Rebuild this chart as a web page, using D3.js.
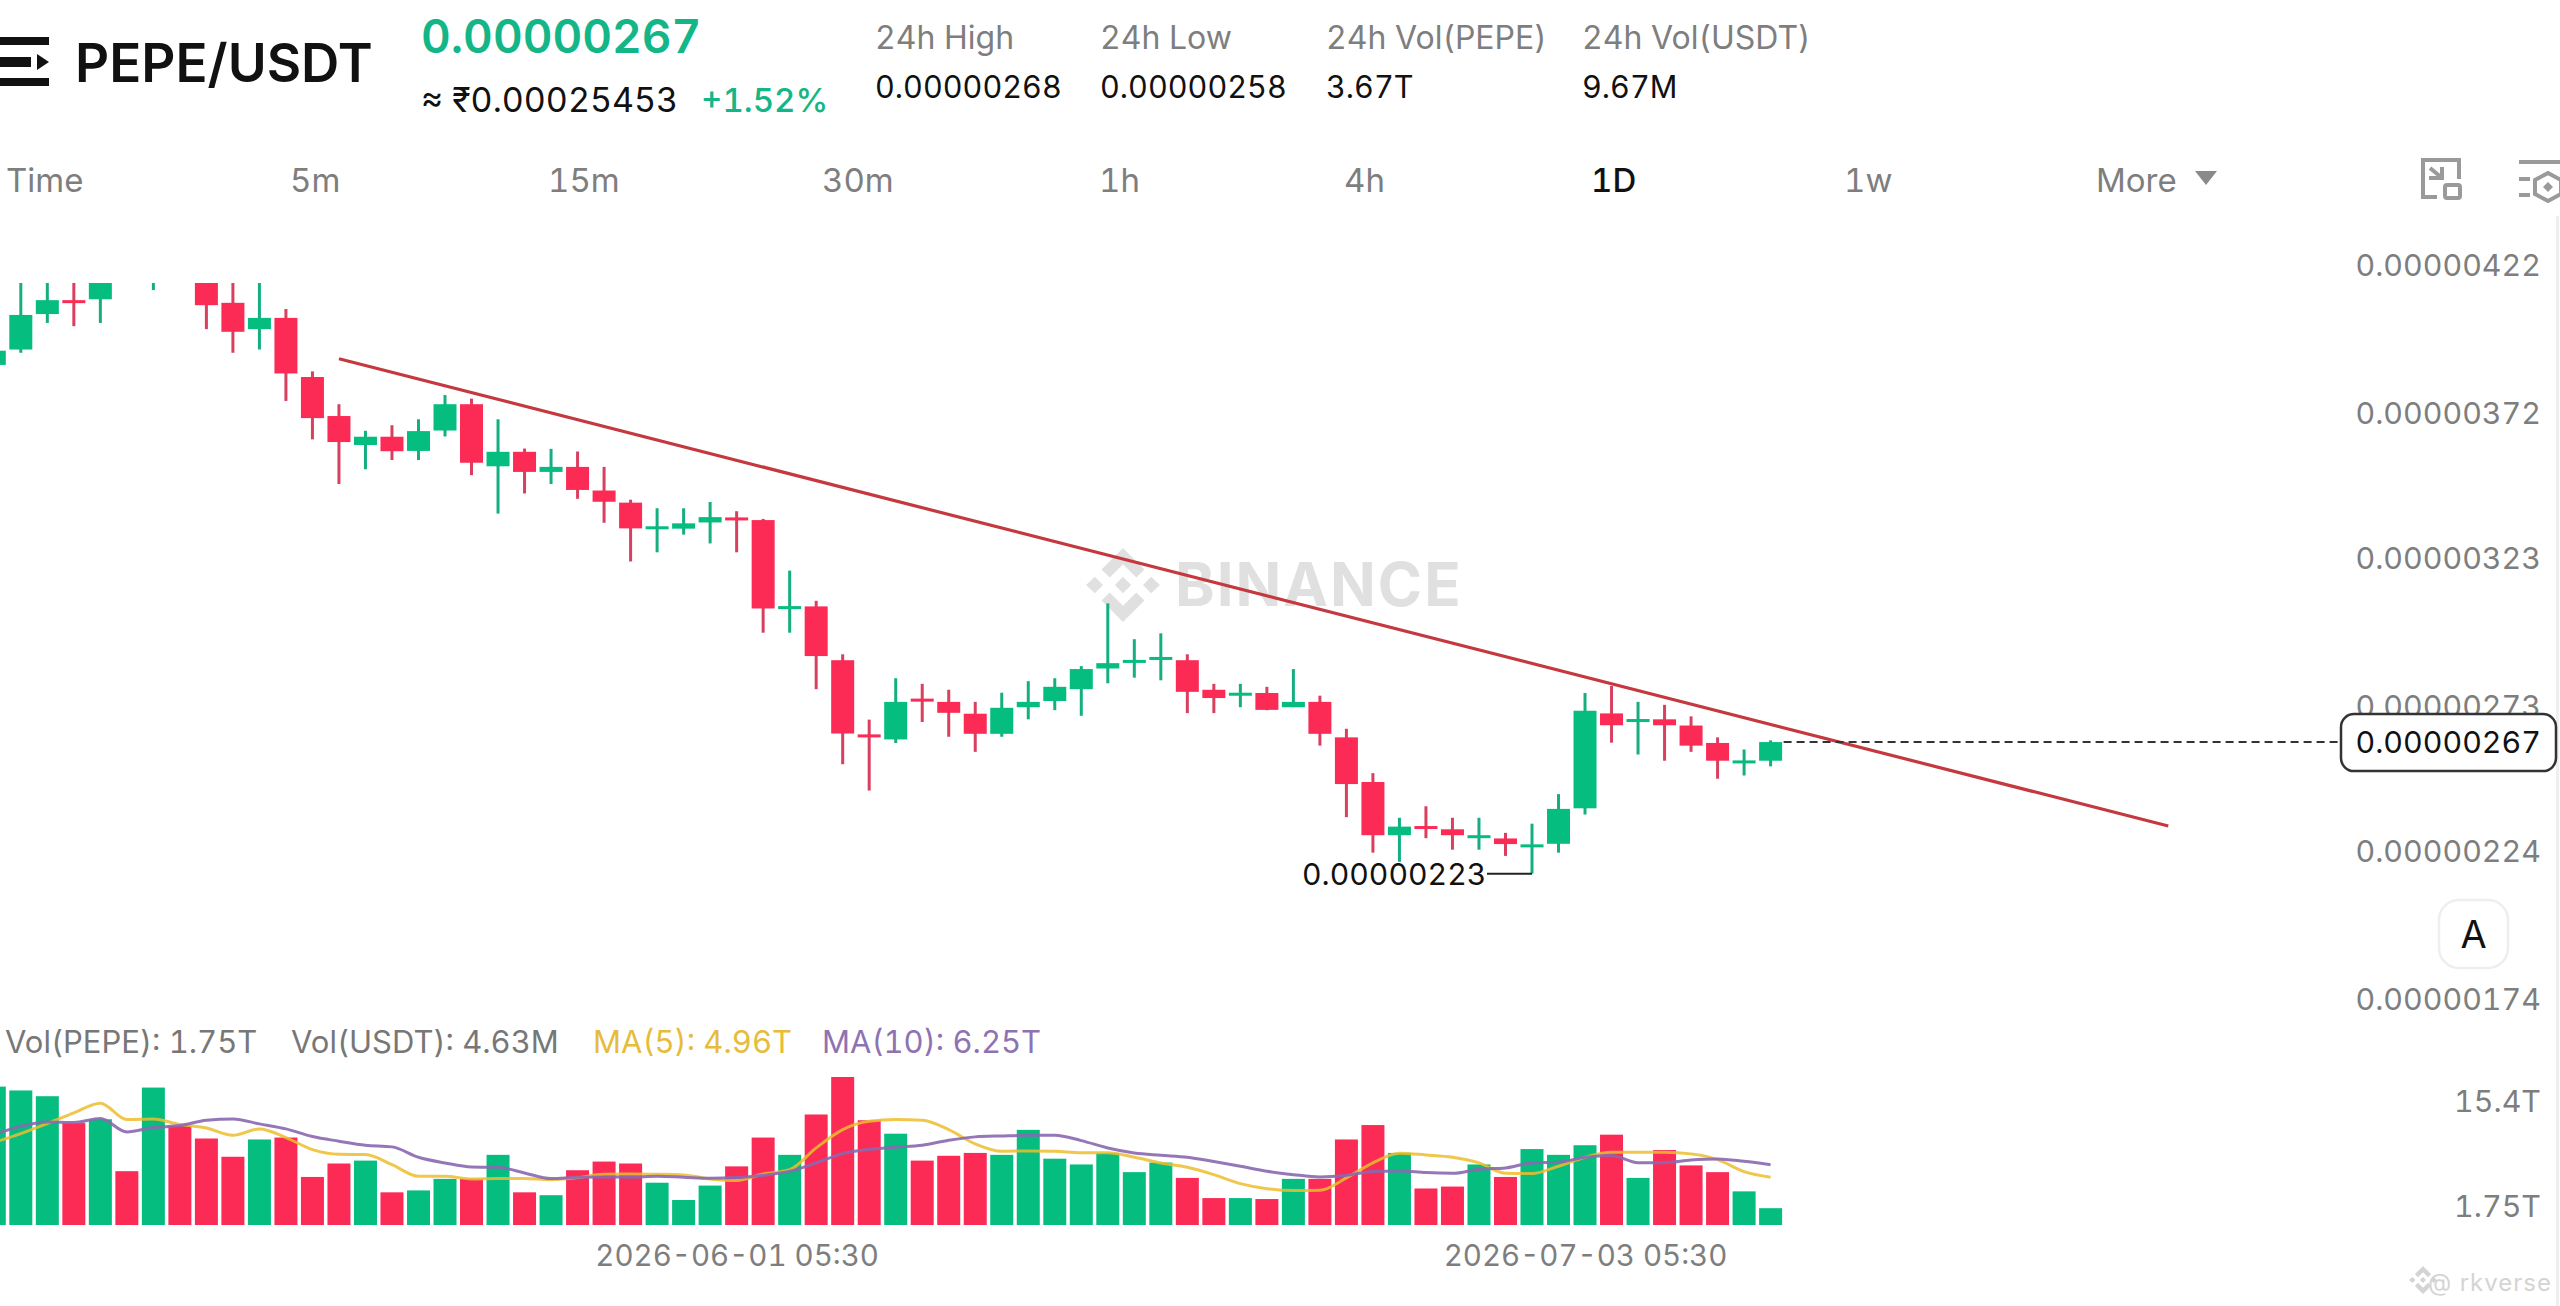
<!DOCTYPE html>
<html>
  <head>
    <meta charset="utf-8">
    <title>PEPE/USDT</title>
    <script src="https://cdn.jsdelivr.net/npm/d3@7/dist/d3.min.js"></script>
    <style>
      body { margin: 0; background: #fff; }
      text { font-family: Inter, "Noto Sans", sans-serif; font-variant-numeric: tabular-nums; }
      .axis .domain, .axis line { display: none; }
    </style>
  </head>
  <body>
    <svg id="chart" width="2560" height="1306"></svg>
    <script>
    // price values are in units of 0.00000001
    var opens = [394.6,399.8,411.8,416.5,416.8,427,424,431,427,415.6,406.7,410.5,390.5,377.3,367.5,370.3,365.5,372.4,381.3,360.3,365.2,358.4,360.1,352.1,348,339.2,339.2,341.3,343,342.1,312.1,312.9,294.7,269.6,267.9,281.7,280.6,276.6,269.8,278.8,280.9,284.9,291.9,293.8,294.8,294.7,284.7,282.8,283.6,278.8,280.6,268.6,253.5,235.5,238.6,237.5,234.5,234.4,231.5,232.6,244.6,276.7,273.8,274.7,272.6,266.7,259.8,260.7];
    var highs = [400,426,424,424,428,430,433,434,430,424,424,413.5,392.4,381.3,372.3,374.2,376.2,384.4,383.2,376.2,366.3,366.2,365.3,360.1,349,346.1,346.1,348.2,345.1,342.5,325,314.8,296.7,274.6,288.6,286.7,284.7,280.6,283.7,287.6,288.6,292.7,313.9,301.8,303.8,296.7,286.7,286.7,285.7,291.7,282.7,271.5,256.5,241.4,245.3,241.4,241.4,236.3,239.4,249.4,283.6,286,280.6,279.6,275.7,268.6,264.5,267.6];
    var lows = [394,398.7,408.8,407.7,408.8,423,419.9,425,406.7,398.7,399.8,382.4,369.4,354.3,359.3,362.4,362.4,370.4,357.3,344.3,351.1,354.3,349.3,341.2,328.1,331.2,337.2,334.2,331.2,304,304,284.9,259.5,250.6,266.7,273.8,268.8,263.7,268.8,274.7,277.8,275.9,286.9,288.8,287.9,276.8,276.8,278.8,277.8,278.8,265.8,241.6,229.6,226.5,234.5,230.6,230.6,228.5,222.5,229.6,242.5,266.8,262.8,260.7,263.7,254.6,255.7,258.8];
    var closes = [399.4,411.5,416.5,415.7,426,424,430,427,414.8,405.8,410.5,391.7,376.6,368.5,370.3,365.4,372.2,381.3,361.5,365.2,358.4,360.1,352.3,348.3,339.3,340,341,343.1,342.3,312.2,313,296.1,269.9,268.7,280.6,280.8,276.9,269.8,278.6,280.6,285.7,291.7,293.7,294.8,295.8,284,281.9,283.7,277.9,280.6,269.8,252.8,235.5,238.4,237.6,235.5,235.5,232.5,232.4,244.4,277.6,272.7,274.8,272.7,265.8,260.7,260.8,267];

    // volume values are in T
    var volumes = [14.4,14.0,13.4,10.6,11.0,5.6,14.3,10.3,9.0,7.1,8.9,9.1,5.0,6.4,6.7,3.4,3.6,4.8,4.8,7.3,3.4,3.1,5.7,6.6,6.4,4.4,2.6,4.1,6.1,9.1,7.3,11.5,15.4,10.9,9.5,6.7,7.2,7.5,7.3,9.9,6.9,6.3,7.5,5.5,6.5,4.9,2.8,2.8,2.7,4.8,4.8,8.9,10.4,7.5,3.8,4.0,6.3,5.0,7.9,7.3,8.3,9.4,4.9,7.8,6.2,5.5,3.5,1.75];
    var ma5 = [8.61,9.51,10.56,11.67,12.67,10.97,11.04,10.45,10.1,9.34,10.0,9.1,7.85,7.36,7.33,6.28,5.07,5.07,4.79,4.83,4.83,4.72,4.93,5.28,5.31,5.28,5.21,4.79,4.62,5.31,5.76,8.02,9.93,10.8,10.97,10.9,9.93,8.44,7.67,7.71,7.67,7.53,7.53,7.05,6.46,6.01,5.24,4.31,3.78,3.58,3.61,4.9,6.46,7.47,7.29,7.05,6.46,5.38,5.35,6.11,7.05,7.57,7.57,7.57,7.4,6.81,5.56,4.97];
    var ma10 = [9.41,10.28,10.73,10.66,11.08,9.69,10.14,10.35,10.9,11.04,10.52,10.0,9.2,8.72,8.3,8.13,7.05,6.46,6.04,6.0,5.42,4.83,4.97,5.0,4.97,5.07,4.97,4.86,4.93,5.17,5.59,6.46,7.43,7.85,8.09,8.3,8.82,9.17,9.27,9.34,9.34,8.78,8.02,7.5,7.26,7.05,6.6,6.11,5.59,5.24,5.0,5.17,5.56,5.63,5.45,5.38,5.8,5.94,6.46,6.53,7.05,7.22,6.49,6.49,6.77,6.88,6.63,6.28];

    var priceTicks = [422,372,323,273,224,174];
    var volTicks = [15.4,1.75];
    var timeTickIndex = [28,60];
    var timeTickLabels = ["2026-06-01 05:30","2026-07-03 05:30"];
    var trendIndex = [13,82];
    var trendPrice = [396.7,238.6];
    var lastPrice = 267;
    var lowIndex = 58;
    var tabs = ["Time","5m","15m","30m","1h","4h","1D","1w","More"];
    var statNames = ["24h High","24h Low","24h Vol(PEPE)","24h Vol(USDT)"];
    var statValues = ["0.00000268","0.00000258","3.67T","9.67M"];

    var green = "#04bd7f", red = "#fb2b56";
    var grey = "#7e7e7e";

    var svg = d3.select("#chart");
    var candles = d3.range(opens.length);

    var x = d3.scaleLinear().domain([0,67]).range([-5.7,1770.6]);
    var y = d3.scaleLinear().domain([174,422]).range([1017,283.9]);
    var v = d3.scaleLinear().domain([0,15.4]).range([1225,1077]);

    function color(i) { return closes[i] >= opens[i] ? green : red; }
    function wickColor(i) { return closes[i] >= opens[i] ? "#15ae80" : "#d9405f"; }

    // header
    var head = svg.append("g");
    head.append("rect").attr("x",0).attr("y",37).attr("width",49).attr("height",8).attr("fill","#111");
    head.append("rect").attr("x",0).attr("y",57).attr("width",31).attr("height",10).attr("fill","#111");
    head.append("rect").attr("x",0).attr("y",78).attr("width",49).attr("height",8).attr("fill","#111");
    head.append("path").attr("d","M37,54L49,62L37,70Z").attr("fill","#111");
    head.append("text").attr("x",75).attr("y",82).attr("font-size",53).attr("font-weight",600).attr("fill","#111").text("PEPE/USDT");
    head.append("text").attr("x",421).attr("y",53).attr("font-size",46).attr("font-weight",600).attr("fill","#14b687").text("0.00000267");
    head.append("text").attr("x",421).attr("y",112).attr("font-size",34).attr("fill","#111").text("≈ ₹0.00025453");
    head.append("text").attr("x",701).attr("y",112).attr("font-size",33).attr("font-weight",500).attr("fill","#14b687").text("+1.52%");

    var statX = [875,1100,1326,1582];
    head.selectAll(".stat-name").data(statNames).enter().append("text")
      .attr("class","stat-name")
      .attr("x",function(d,i){ return statX[i]; })
      .attr("y",49).attr("font-size",32).attr("fill",grey)
      .text(function(d){ return d; });
    head.selectAll(".stat-value").data(statValues).enter().append("text")
      .attr("class","stat-value")
      .attr("x",function(d,i){ return statX[i]; })
      .attr("y",98).attr("font-size",30.6).attr("fill","#111")
      .text(function(d){ return d; });

    var tabX = [6,290,548,822,1099,1344,1591,1844,2096];
    head.selectAll(".tab").data(tabs).enter().append("text")
      .attr("class","tab")
      .attr("x",function(d,i){ return tabX[i]; })
      .attr("y",192).attr("font-size",33)
      .attr("font-weight",function(d){ return d == "1D" ? 500 : 400; })
      .attr("fill",function(d){ return d == "1D" ? "#111" : grey; })
      .text(function(d){ return d; });
    head.append("path").attr("d","M2195,171H2217L2206,185Z").attr("fill","#8a8a8a");

    // the two icons at the right of the tabs
    var icons = svg.append("g").attr("fill","none").attr("stroke","#9a9a9a").attr("stroke-width",4);
    icons.append("path").attr("d","M2437,197H2423V160H2459V179M2430,168L2442,178M2429,178H2442V167");
    icons.append("rect").attr("x",2445).attr("y",185).attr("width",15).attr("height",13).attr("rx",2);
    icons.append("path").attr("d","M2519,162H2560M2519,179H2530M2519,195H2530");
    icons.append("path").attr("d","M2548,173L2561,180V194L2548,201L2535,194V180Z");
    icons.append("path").attr("d","M2548,182L2553,187L2548,192L2543,187Z").attr("fill","#9a9a9a").attr("stroke","none");

    svg.append("line").attr("x1",2557.5).attr("x2",2557.5).attr("y1",216).attr("y2",1306)
      .attr("stroke","#efefef").attr("stroke-width",3);

    // watermark under the candles
    var mark = svg.append("g").attr("fill","#e0e0e0");
    function drawLogo(g) {
      g.append("path").attr("d","M0,-.22L.22,0L0,.22L-.22,0Z");
      g.append("path").attr("d","M-.76,-.22L-.54,0L-.76,.22L-1,0Z");
      g.append("path").attr("d","M.76,-.22L1,0L.76,.22L.54,0Z");
      g.append("path").attr("d","M0,-1L.58,-.42L.36,-.2L0,-.56L-.36,-.2L-.58,-.42Z");
      g.append("path").attr("d","M0,1L.58,.42L.36,.2L0,.56L-.36,.2L-.58,.42Z");
    }
    drawLogo(mark.append("g").attr("transform","translate(1123,585) scale(37)"));
    mark.append("text").attr("x",1175).attr("y",606).attr("font-size",60).attr("font-weight",700)
      .attr("letter-spacing",2).text("BINANCE");

    // candles are cut off at the top of the price area
    svg.append("clipPath").attr("id","price-clip").append("rect")
      .attr("x",0).attr("y",283).attr("width",2560).attr("height",800);

    var candle = svg.append("g").attr("clip-path","url(#price-clip)")
      .selectAll("g").data(candles).enter().append("g");
    candle.append("line")
      .attr("x1",function(i){ return x(i); })
      .attr("x2",function(i){ return x(i); })
      .attr("y1",function(i){ return y(highs[i]); })
      .attr("y2",function(i){ return y(lows[i]); })
      .attr("stroke",wickColor)
      .attr("stroke-width",3);
    candle.append("rect")
      .attr("x",function(i){ return x(i)-11.5; })
      .attr("y",function(i){ return y(Math.max(opens[i],closes[i])); })
      .attr("width",23)
      .attr("height",function(i){ return Math.max(3,Math.abs(y(opens[i])-y(closes[i]))); })
      .attr("fill",color);

    // trend line
    svg.append("line")
      .attr("x1",x(trendIndex[0])).attr("y1",y(trendPrice[0]))
      .attr("x2",x(trendIndex[1])).attr("y2",y(trendPrice[1]))
      .attr("stroke","#c4393f").attr("stroke-width",3.2);

    // lowest price marker
    svg.append("path")
      .attr("d","M1487,"+y(lows[lowIndex])+"H"+x(lowIndex)).attr("fill","none")
      .attr("stroke","#222").attr("stroke-width",2);
    svg.append("text").attr("x",1302).attr("y",y(lows[lowIndex])+11).attr("font-size",30.2).attr("fill","#111").text("0.00000223");

    // price axis, labels sit above their grid positions
    var priceAxis = d3.axisLeft(y).tickValues(priceTicks).tickSize(0).tickPadding(0)
      .tickFormat(function(d){ return "0.00000"+d; });
    var pAxis = svg.append("g").attr("class","axis").attr("transform","translate(2541,0)").call(priceAxis);
    pAxis.selectAll("text").attr("dy",-8).attr("font-size",30.4).attr("fill",grey).style("font-family","Inter");

    // current price
    svg.append("line").attr("x1",x(67)+13).attr("x2",2340)
      .attr("y1",y(lastPrice)).attr("y2",y(lastPrice))
      .attr("stroke","#333").attr("stroke-width",2).attr("stroke-dasharray","8,5");
    svg.append("rect").attr("x",2341).attr("y",y(lastPrice)-28).attr("width",215).attr("height",57).attr("rx",13)
      .attr("fill","#fff").attr("stroke","#333").attr("stroke-width",2.5);
    svg.append("text").attr("x",2541).attr("y",y(lastPrice)+11).attr("text-anchor","end")
      .attr("font-size",30.4).attr("fill","#111").text("0.00000"+lastPrice);

    // auto scale button
    svg.append("rect").attr("x",2439).attr("y",900).attr("width",69).attr("height",68).attr("rx",20)
      .attr("fill","#fff").attr("stroke","#eeeeee").attr("stroke-width",2.5);
    svg.append("text").attr("x",2473.5).attr("y",948).attr("text-anchor","middle").attr("font-size",38).attr("fill","#111").text("A");

    // volume legend
    var legendX = [5,291,593,822];
    var legendText = ["Vol(PEPE): 1.75T","Vol(USDT): 4.63M","MA(5): 4.96T","MA(10): 6.25T"];
    var legendColor = ["#777","#777","#e6bc3a","#8e73b2"];
    svg.selectAll(".legend").data(legendText).enter().append("text")
      .attr("class","legend")
      .attr("x",function(d,i){ return legendX[i]; })
      .attr("y",1053).attr("font-size",31)
      .attr("fill",function(d,i){ return legendColor[i]; })
      .text(function(d){ return d; });

    // volume bars
    svg.append("g").selectAll("rect").data(candles).enter().append("rect")
      .attr("x",function(i){ return x(i)-11.5; })
      .attr("y",function(i){ return v(volumes[i]); })
      .attr("width",23)
      .attr("height",function(i){ return v(0)-v(volumes[i]); })
      .attr("fill",color);

    var maLine = d3.line()
      .x(function(d,i){ return x(i); })
      .y(function(d){ return v(d); })
      .curve(d3.curveMonotoneX);
    svg.append("path").attr("d",maLine(ma5)).attr("fill","none")
      .attr("stroke","#ecbd2d").attr("stroke-opacity",0.85).attr("stroke-width",3);
    svg.append("path").attr("d",maLine(ma10)).attr("fill","none")
      .attr("stroke","#8a68b0").attr("stroke-opacity",0.9).attr("stroke-width",3);

    // volume axis labels
    var volAxis = d3.axisLeft(v).tickValues(volTicks).tickSize(0).tickPadding(0)
      .tickFormat(function(d){ return d+"T"; });
    var vAxis = svg.append("g").attr("class","axis").attr("transform","translate(2541,0)").call(volAxis);
    vAxis.selectAll("text")
      .attr("dy",function(d){ return d == 15.4 ? 34 : 8; })
      .attr("font-size",30.4).attr("fill",grey).style("font-family","Inter");

    // time axis
    var timeAxis = d3.axisBottom(x).tickValues(timeTickIndex).tickSize(0).tickPadding(0)
      .tickFormat(function(d,i){ return timeTickLabels[i]; });
    var tAxis = svg.append("g").attr("class","axis").attr("transform","translate(0,1240)").call(timeAxis);
    tAxis.selectAll("text").attr("dy",26).attr("font-size",29.5).attr("fill",grey).style("font-family","Inter");

    // author tag at the bottom right
    var tag = svg.append("g").attr("fill","#d4d4d4");
    drawLogo(tag.append("g").attr("transform","translate(2423,1280) scale(14)"));
    tag.append("text").attr("x",2552).attr("y",1291).attr("text-anchor","end")
      .attr("font-size",24).attr("letter-spacing",1).text("@ rkverse");
    </script>
  </body>
</html>
